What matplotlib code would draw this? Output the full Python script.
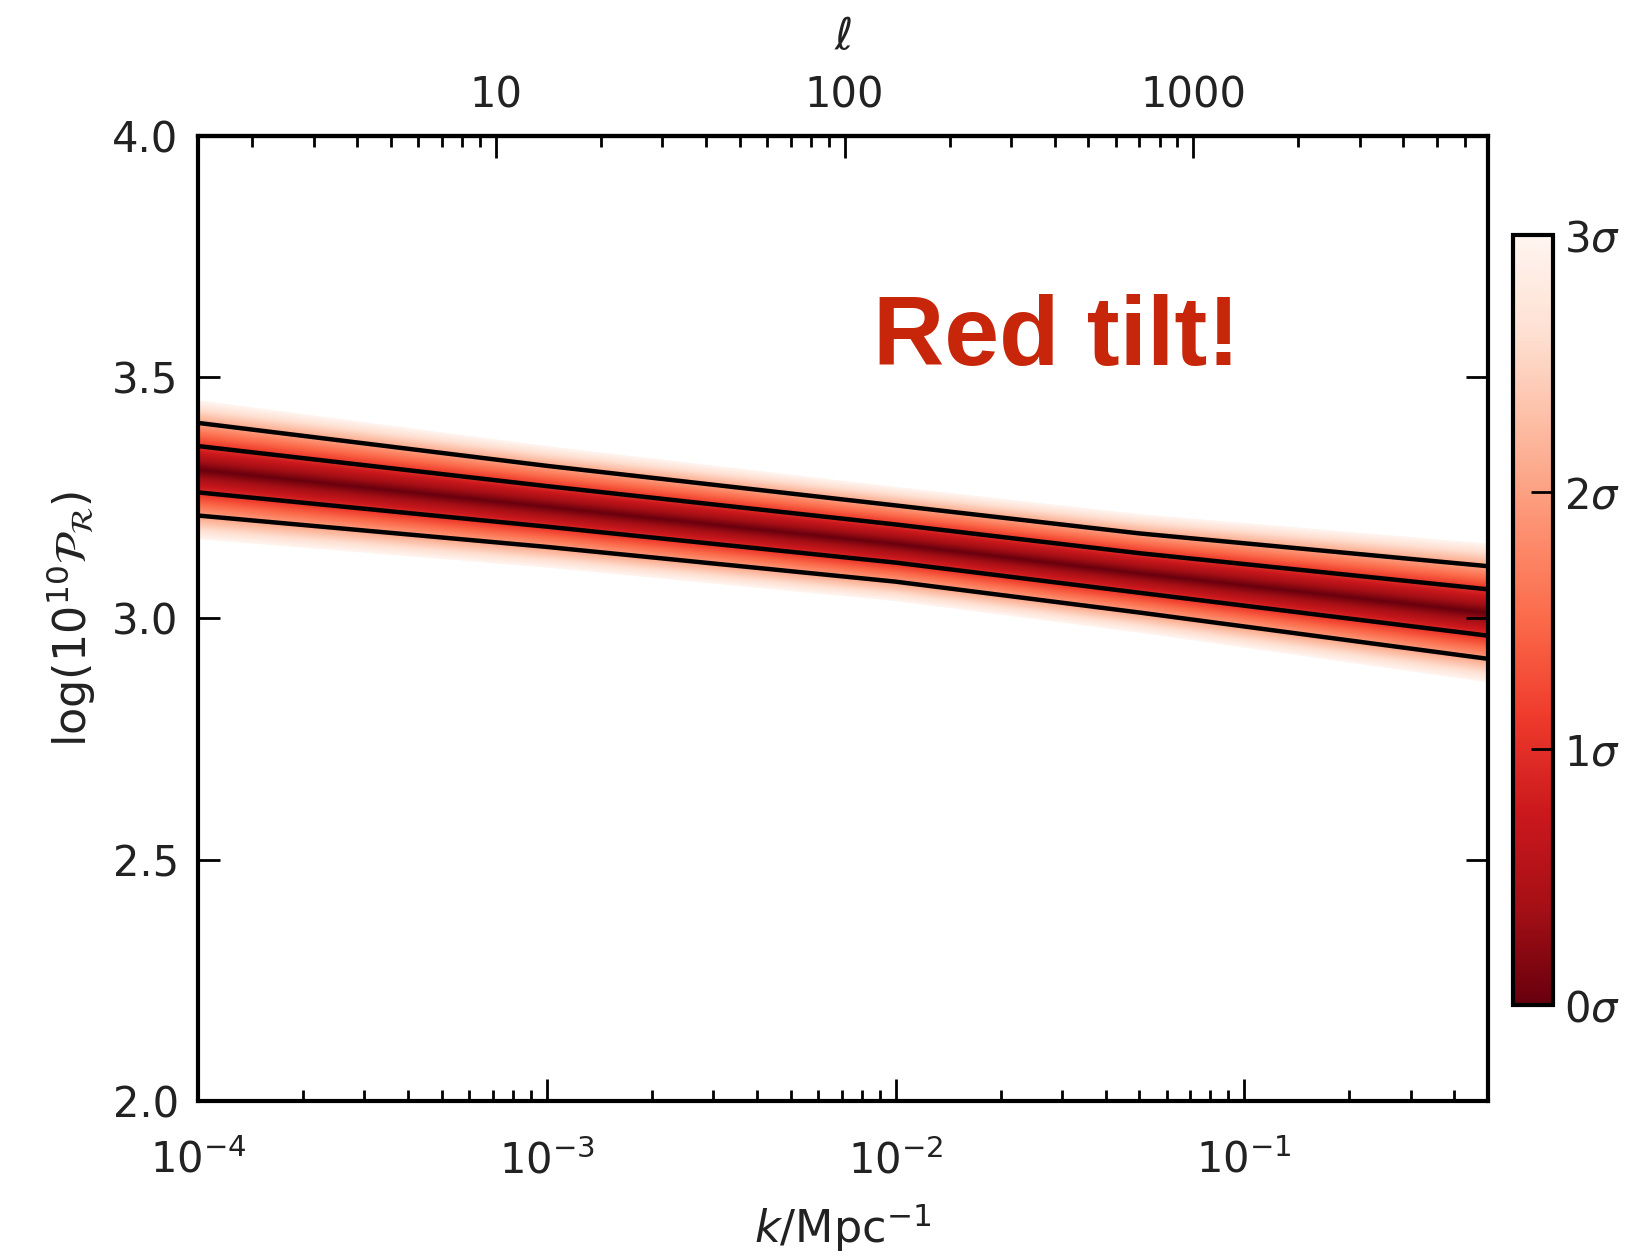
import numpy as np
import matplotlib
matplotlib.use("Agg")
import matplotlib.pyplot as plt
from matplotlib import ticker
from matplotlib.cm import ScalarMappable
from matplotlib.colors import Normalize

plt.rcParams['font.family'] = ['DejaVu Sans']
plt.rcParams['mathtext.fontset'] = 'dejavusans'

# posterior on the primordial power spectrum, sampled at a few k nodes
k_nodes = [1e-4, 1e-3, 1e-2, 5e-2, 0.5]
pr_mean = [3.309, 3.232, 3.155, 3.094, 3.012]
pr_sigma = [0.048, 0.042, 0.0395, 0.041, 0.048]

sigma_ticks = [0, 1, 2, 3]
sigma_labels = [r'$0\sigma$', r'$1\sigma$', r'$2\sigma$', r'$3\sigma$']
y_ticks = [2.0, 2.5, 3.0, 3.5, 4.0]
ell_ticks = [10, 100, 1000]
chi_star = 14000.0  # Mpc, k -> ell conversion

k = np.array(k_nodes)
mu = np.array(pr_mean)
sd = np.array(pr_sigma)

cmap = plt.get_cmap('Reds_r')
norm = Normalize(0, 3)
txt = '#222222'

fig = plt.figure(figsize=(16.37, 12.58), dpi=100)
ax = fig.add_axes([0.121, 0.125, 0.788, 0.767])

# density shading: nested bands from 3 sigma down to the mean
for s in np.linspace(3, 0, 120):
    ax.fill_between(k, mu - s * sd, mu + s * sd, color=cmap(norm(s)),
                    lw=0, zorder=1)

# 1 and 2 sigma contours
for n in (1, 2):
    ax.plot(k, mu + n * sd, color='k', lw=3.2, zorder=3)
    ax.plot(k, mu - n * sd, color='k', lw=3.2, zorder=3)

ax.set_xscale('log')
ax.set_xlim(1e-4, 0.5)
ax.set_ylim(2.0, 4.0)
ax.set_yticks(y_ticks)
ax.yaxis.set_major_formatter(ticker.FormatStrFormatter('%.1f'))
ax.xaxis.set_major_locator(ticker.LogLocator(base=10, numticks=10))
ax.xaxis.set_minor_locator(ticker.LogLocator(base=10, subs=np.arange(2, 10), numticks=20))
ax.xaxis.set_minor_formatter(ticker.NullFormatter())

ax.tick_params(which='both', direction='in', top=False, right=True,
               labelsize=30, labelcolor=txt, width=2, pad=14)
ax.tick_params(axis='x', pad=28)
ax.tick_params(which='major', length=16)
ax.tick_params(which='minor', length=8)
for sp in ax.spines.values():
    sp.set_linewidth(3)

ax.set_xlabel(r'$k/\mathrm{Mpc}^{-1}$', fontsize=32, color=txt, labelpad=14)
ax.set_ylabel(r'$\log(10^{10}\mathcal{P}_\mathcal{R})$', fontsize=32,
              color=txt, labelpad=10)

# multipole axis on top
sec = ax.secondary_xaxis('top', functions=(lambda x: x * chi_star,
                                           lambda l: l / chi_star))
sec.xaxis.set_major_locator(ticker.FixedLocator(ell_ticks))
sec.xaxis.set_major_formatter(ticker.FixedFormatter([str(v) for v in ell_ticks]))
sec.xaxis.set_minor_locator(ticker.LogLocator(base=10, subs=np.arange(2, 10), numticks=20))
sec.xaxis.set_minor_formatter(ticker.NullFormatter())
sec.tick_params(which='both', direction='in', labelsize=30, labelcolor=txt,
                width=2, pad=14)
sec.tick_params(which='major', length=16)
sec.tick_params(which='minor', length=8)
sec.spines['top'].set_linewidth(3)
sec.set_xlabel(r'$\ell$', fontsize=32, color=txt, labelpad=18)

ax.text(0.808, 0.763, 'Red tilt!', transform=ax.transAxes, ha='right',
        va='baseline', fontsize=71, fontweight='bold',
        family='Liberation Sans', color='#c8260a')

# colour bar in units of sigma
cax = fig.add_axes([0.924, 0.201, 0.0244, 0.612])
sm = ScalarMappable(norm=norm, cmap=cmap)
cb = fig.colorbar(sm, cax=cax, ticks=sigma_ticks)
cb.ax.set_yticklabels(sigma_labels)
cb.outline.set_linewidth(3)
cb.ax.tick_params(direction='in', length=16, width=2, labelsize=30,
                  labelcolor=txt, pad=8)

fig.savefig('out.png', dpi=100)
